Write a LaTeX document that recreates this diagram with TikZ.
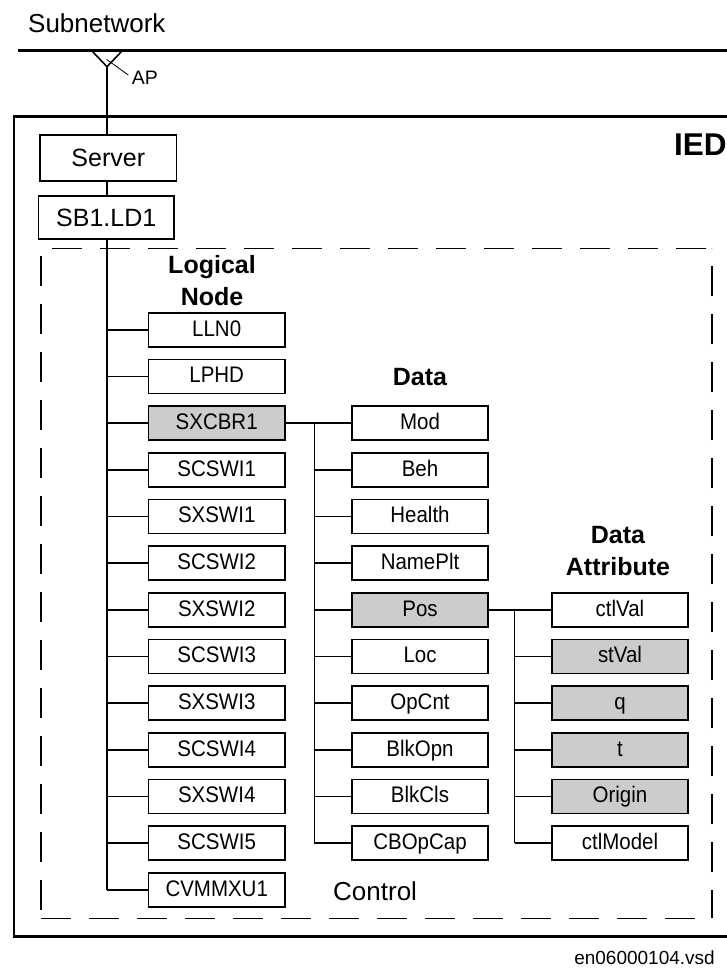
\documentclass[tikz,border=0pt]{standalone}
\usepackage{fontspec}
\setmainfont{Liberation Sans}
\newfontfamily\boxfont[FakeStretch=0.91]{Liberation Sans}
\definecolor{hlgray}{RGB}{204,204,204}
\begin{document}
\begin{tikzpicture}[x=1pt,y=-1pt,
  box/.style={draw, line width=1.6pt, fill=white, minimum width=136.5pt, minimum height=34pt, inner sep=0pt, text height=16pt, text depth=3pt, font=\boxfont\fontsize{22.5}{27}\selectfont},
  hl/.style={box, fill=hlgray},
  topbox/.style={box, text height=20pt, text depth=2pt, font=\fontsize{25}{30}\selectfont},
  conn/.style={line width=1.6pt},
  lab/.style={font=\bfseries\fontsize{25}{30}\selectfont, inner sep=0pt, anchor=base},
  plain/.style={inner sep=0pt},
  dashline/.style={line width=1.6pt, dash pattern=on 30pt off 18pt}
]
\useasboundingbox (0,0) rectangle (727,968);

% subnetwork and IED frame
\coordinate (snl) at (17.7,50.7);
\coordinate (snr) at (727,50.7);
\draw[line width=2.7pt] (snl) -- (snr);
\draw[line width=2.7pt] (728,116.7) -- (14,116.7) -- (14,936.7) -- (728,936.7);

% access point
\coordinate (apv) at (107,66.7);
\draw[line width=1.6pt] (91.7,50.7) -- (apv) -- (122.3,50.7);
\draw[line width=0.8pt] (106.7,59.5) -- (128.3,75);
\node[plain, anchor=base west, font=\fontsize{19.5}{23}\selectfont] (ap) at (131.7,85) {AP};
\node[plain, anchor=base west, font=\fontsize{26}{31}\selectfont] (subnet) at (28,32.3) {Subnetwork};
\node[plain, anchor=base east, font=\bfseries\fontsize{31.5}{37}\selectfont] (ied) at (726.8,156) {IED};

% dashed logical-device frame
\draw[dashline, dash phase=36.7pt] (40.7,248.3) -- (711.7,248.3);
\draw[dashline] (40.7,918.3) -- (711.7,918.3);
\draw[dashline, dash phase=39.7pt] (40.7,918.3) -- (40.7,248.3);
\draw[dashline, dash phase=2pt] (711.7,918.3) -- (711.7,248.3);

% labels
\node[lab] (ln1) at (212,273) {Logical};
\node[lab] (ln2) at (212,305) {Node};
\node[lab] (dlab) at (420,385) {Data};
\node[lab] (da1) at (618,543.3) {Data};
\node[lab] (da2) at (618,575) {Attribute};
\node[plain, anchor=base west, font=\fontsize{26}{31}\selectfont] (ctrl) at (333,900) {Control};
\node[plain, anchor=base east, font=\fontsize{19}{23}\selectfont] (vsd) at (715,964) {en06000104.vsd};

% trunk (drawn first, boxes cover it)
\coordinate (trunkend) at (107,889.7);
\draw[conn] (apv) -- (trunkend);

\node[topbox, minimum width=136.7pt, minimum height=45.7pt] (server) at (108.3,157.9) {Server};
\node[topbox, minimum width=135.7pt, minimum height=43.3pt] (ld) at (106.2,217.4) {SB1.LD1};

% logical nodes
\node[box] (lln0)   at (216.7,329.7) {LLN0};
\node[box] (lphd)   at (216.7,376.4) {LPHD};
\node[hl]  (sxcbr1) at (216.7,423.0) {SXCBR1};
\node[box] (scswi1) at (216.7,469.7) {SCSWI1};
\node[box] (sxswi1) at (216.7,516.4) {SXSWI1};
\node[box] (scswi2) at (216.7,563.1) {SCSWI2};
\node[box] (sxswi2) at (216.7,609.7) {SXSWI2};
\node[box] (scswi3) at (216.7,656.4) {SCSWI3};
\node[box] (sxswi3) at (216.7,703.1) {SXSWI3};
\node[box] (scswi4) at (216.7,749.7) {SCSWI4};
\node[box] (sxswi4) at (216.7,796.4) {SXSWI4};
\node[box] (scswi5) at (216.7,843.1) {SCSWI5};
\node[box] (cvmmxu1) at (216.7,889.7) {CVMMXU1};

\foreach \n in {lln0,lphd,sxcbr1,scswi1,sxswi1,scswi2,sxswi2,scswi3,sxswi3,scswi4,sxswi4,scswi5,cvmmxu1}
  \draw[conn] (\n.west) -- (\n.west -| apv);

% data objects
\node[box] (mod)     at (420,423.0) {Mod};
\node[box] (beh)     at (420,469.7) {Beh};
\node[box] (health)  at (420,516.4) {Health};
\node[box] (nameplt) at (420,563.1) {NamePlt};
\node[hl]  (pos)     at (420,609.7) {Pos};
\node[box] (loc)     at (420,656.4) {Loc};
\node[box] (opcnt)   at (420,703.1) {OpCnt};
\node[box] (blkopn)  at (420,749.7) {BlkOpn};
\node[box] (blkcls)  at (420,796.4) {BlkCls};
\node[box] (cbopcap) at (420,843.1) {CBOpCap};

\coordinate (brd) at (314.3,0);
\draw[conn] (sxcbr1.east) -- (mod.west);
\draw[conn] (sxcbr1.east -| brd) -- (cbopcap.west -| brd);
\foreach \n in {beh,health,nameplt,pos,loc,opcnt,blkopn,blkcls,cbopcap}
  \draw[conn] (\n.west) -- (\n.west -| brd);

% data attributes
\node[box] (ctlval)   at (620,609.7) {ctlVal};
\node[hl]  (stval)    at (620,656.4) {stVal};
\node[hl]  (q)        at (620,703.1) {q};
\node[hl]  (t)        at (620,749.7) {t};
\node[hl]  (origin)   at (620,796.4) {Origin};
\node[box] (ctlmodel) at (620,843.1) {ctlModel};

\coordinate (bra) at (514.5,0);
\draw[conn] (pos.east) -- (ctlval.west);
\draw[conn] (pos.east -| bra) -- (ctlmodel.west -| bra);
\foreach \n in {stval,q,t,origin,ctlmodel}
  \draw[conn] (\n.west) -- (\n.west -| bra);
\end{tikzpicture}
\end{document}
